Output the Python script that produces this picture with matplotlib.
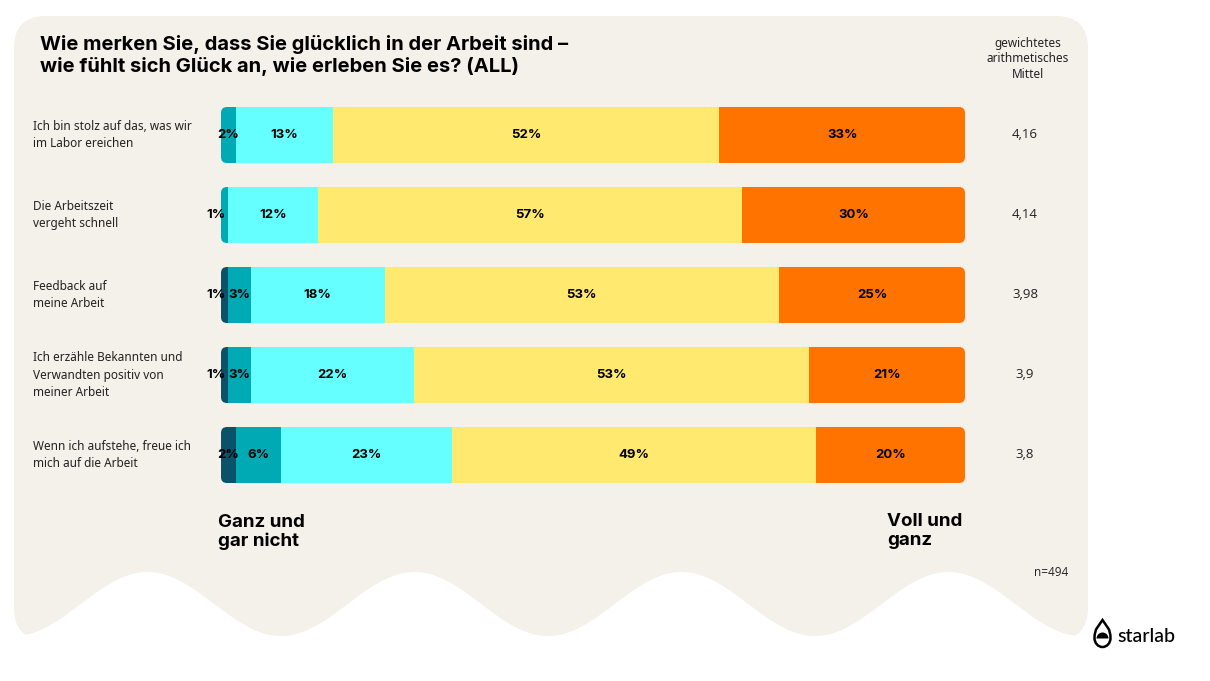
import numpy as np
import matplotlib
matplotlib.use("Agg")
import matplotlib.pyplot as plt
from matplotlib.patches import FancyBboxPatch, Wedge, PathPatch
from matplotlib.path import Path
import matplotlib.transforms as mtransforms

# Data
statements = [
    "Ich bin stolz auf das, was wir\nim Labor ereichen",
    "Die Arbeitszeit\nvergeht schnell",
    "Feedback auf\nmeine Arbeit",
    "Ich erzähle Bekannten und\nVerwandten positiv von\nmeiner Arbeit",
    "Wenn ich aufstehe, freue ich\nmich auf die Arbeit",
]
ganz_und_gar_nicht = [0, 0, 1, 1, 2]
eher_nicht = [2, 1, 3, 3, 6]
teils_teils = [13, 12, 18, 22, 23]
eher_ja = [52, 57, 53, 53, 49]
voll_und_ganz = [33, 30, 25, 21, 20]
mittel = ["4,16", "4,14", "3,98", "3,9", "3,8"]

series = [ganz_und_gar_nicht, eher_nicht, teils_teils, eher_ja, voll_und_ganz]
colors = ["#0b5169", "#00aab5", "#66ffff", "#ffe96e", "#ff7300"]

panel_color = "#f4f0ea"
label_font = "Noto Sans"
bold_font = "Inter"

fig = plt.figure(figsize=(12.1, 6.81), dpi=100)
fig.patch.set_facecolor("white")

# background axes in pixel units
bg = fig.add_axes([0, 0, 1, 1])
bg.set_xlim(0, 1210)
bg.set_ylim(681, 0)
bg.axis("off")

panel = FancyBboxPatch((14, 16), 1074, 624, boxstyle="round,pad=0,rounding_size=32",
                       facecolor=panel_color, edgecolor="none")
bg.add_patch(panel)
# wavy bottom edge
wx = np.linspace(0, 1210, 800)
wy = 604 + 32 * np.cos(2 * np.pi * (wx - 281) / 267)
bg.fill_between(wx, wy, 700, color="white", linewidth=0)

# bar axes
ax = fig.add_axes([221 / 1210, 1 - 495 / 681, 744 / 1210, 400 / 681])
ax.set_xlim(0, 100)
ax.set_ylim(4.5, -0.5)
ax.axis("off")

rows = np.arange(len(statements))
bar_h = 0.7
clips = []
for i in rows:
    clip = FancyBboxPatch((0, i - bar_h / 2), 100, bar_h,
                          boxstyle="round,pad=0,rounding_size=0.8",
                          mutation_aspect=7.44 / 80,
                          facecolor="none", edgecolor="none")
    ax.add_patch(clip)
    clips.append(clip)

left = np.zeros(len(statements))
for vals, col in zip(series, colors):
    vals = np.array(vals, dtype=float)
    bars = ax.barh(rows, vals, left=left, height=bar_h, color=col, linewidth=0)
    for i, b in enumerate(bars):
        b.set_clip_path(clips[i])
        v = vals[i]
        if v <= 0:
            continue
        if v < 2:
            ax.text(left[i] + v - 0.4, i, f"{int(v)}%", ha="right", va="center",
                    fontsize=9.5, fontweight="bold", family=bold_font, color="black")
        else:
            ax.text(left[i] + v / 2, i, f"{int(v)}%", ha="center", va="center",
                    fontsize=9.5, fontweight="bold", family=bold_font, color="black")
    left += vals

# statement labels and mean values
tr = mtransforms.blended_transform_factory(bg.transData, ax.transData)
for i, (s, m) in enumerate(zip(statements, mittel)):
    ax.text(33, i, s, transform=tr, ha="left", va="center", fontsize=8.5,
            family=label_font, color="#222222", linespacing=1.45)
    ax.text(1025, i, m, transform=tr, ha="center", va="center", fontsize=9.5,
            family="Open Sans", color="#222222")

# title and other texts
bg.text(40, 55, "Wie merken Sie, dass Sie glücklich in der Arbeit sind –\n"
        "wie fühlt sich Glück an, wie erleben Sie es? (ALL)",
        ha="left", va="center", fontsize=14.5, fontweight="bold", family=bold_font,
        color="black", linespacing=1.2)
bg.text(1028, 59, "gewichtetes\narithmetisches\nMittel", ha="center", va="center",
        fontsize=8.5, family=label_font, color="#222222", linespacing=1.3)
bg.text(218, 532, "Ganz und\ngar nicht", ha="left", va="center", fontsize=13.5,
        fontweight="bold", family=bold_font, color="black", linespacing=1.15)
bg.text(887, 531, "Voll und\nganz", ha="left", va="center", fontsize=13.5,
        fontweight="bold", family=bold_font, color="black", linespacing=1.15)
bg.text(1068, 572, "n=494", ha="right", va="center", fontsize=8.5,
        family="Open Sans", color="#222222")

# starlab logo
drop = Path([(1102.5, 620), (1097, 628), (1094.5, 631), (1094.5, 638),
             (1094.5, 643), (1098, 647), (1102.5, 647), (1107, 647),
             (1110.5, 643), (1110.5, 638), (1110.5, 631), (1108, 628), (1102.5, 620)],
            [Path.MOVETO, Path.LINETO, Path.CURVE3, Path.CURVE3, Path.CURVE4, Path.CURVE4,
             Path.CURVE4, Path.CURVE4, Path.CURVE4, Path.CURVE4, Path.CURVE3, Path.CURVE3,
             Path.CLOSEPOLY])
bg.add_patch(PathPatch(drop, facecolor="none", edgecolor="black", linewidth=1.8))
bg.add_patch(Wedge((1102.5, 638.5), 6, 180, 360, facecolor="black", edgecolor="none"))
bg.text(1117, 637, "starlab", ha="left", va="center", fontsize=14,
        family="Lato", fontweight="medium", color="black")

fig.savefig("out.png", dpi=100, facecolor="white")
